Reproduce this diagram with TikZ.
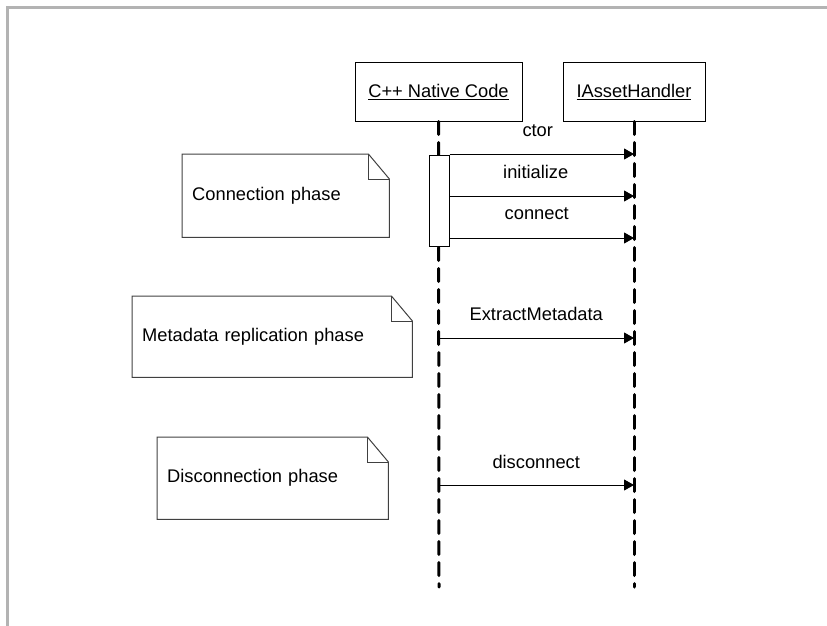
\documentclass[tikz,border=0pt]{standalone}
\usepackage{fontspec}
\setmainfont{Liberation Sans}
\usepackage{xcolor}
\usepackage{tikz}
\usetikzlibrary{positioning, arrows.meta}
\definecolor{FrameGray}{HTML}{B3B3B3}
\definecolor{NoteLine}{HTML}{404040}
\tikzset{
  headbox/.style={draw=black, line width=1pt, fill=white, minimum height=58pt, inner sep=0pt},
  actbox/.style={draw=black, line width=1pt, fill=white, minimum width=20pt, minimum height=91pt, inner sep=0pt},
  notebox/.style={align=left, inner xsep=10pt, inner ysep=0pt, minimum height=#1, anchor=north west},
  notedraw/.style={draw=NoteLine, line width=1pt, line join=miter},
  lifeline/.style={line width=3pt, line cap=round, dash pattern=on 13pt off 8pt},
  msg/.style={line width=1pt, -{Triangle[length=10pt, width=11pt]}},
  msglabel/.style={midway, yshift=24pt}
}
\newcommand{\foldnote}[1]{%
  \draw[notedraw] (#1.south west) -- (#1.north west) -- ([xshift=-21pt]#1.north east)
    -- ([yshift=-25pt]#1.north east) -- (#1.south east) -- cycle;
  \draw[notedraw] ([xshift=-21pt]#1.north east) |- ([yshift=-25pt]#1.north east);
}

\begin{document}
\begin{tikzpicture}[x=1pt, y=-1pt, font=\fontsize{18.3}{22}\selectfont]
      \useasboundingbox (0,0) rectangle (827,626);
      \draw[FrameGray, line width=3pt] (7.5,626) -- (7.5,7.5) -- (827,7.5);
      % Lifeline heads
      \node[headbox, minimum width=167pt] (native) at (438.5,92) {\underline{C++ Native Code}};
      \node[headbox, minimum width=142pt] (asset) at (634,92) {\underline{IAssetHandler}};
      \coordinate (nativeend) at (439,587);
      \coordinate (assetend) at (634,587);
      % Lifelines
      \draw[lifeline] (native.south) -- (nativeend);
      \draw[lifeline] (asset.south) -- (assetend);
      \node[actbox] (act) at (439,200.5) {};
      % Notes
      \node[notebox=83pt, text width=187pt] (connnote) at (182,154) {Connection phase};
      \foldnote{connnote}
      \node[notebox=81pt, text width=260pt] (metanote) at (132,296) {Metadata replication phase};
      \foldnote{metanote}
      \node[notebox=82pt, text width=211pt] (discnote) at (157,437) {Disconnection phase};
      \foldnote{discnote}
      % Messages
      \draw[msg] (act.east |- 0,154) -- (asset.south |- 0,154) node[msglabel, xshift=-4pt, yshift=-1pt] {ctor};
      \draw[msg] (act.east |- 0,196) -- (asset.south |- 0,196) node[msglabel, xshift=-6pt] {initialize};
      \draw[msg] (act.east |- 0,238) -- (asset.south |- 0,238) node[msglabel, xshift=-5pt] {connect};
      \draw[msg] (native.south |- 0,338) -- (asset.south |- 0,338) node[msglabel] {ExtractMetadata};
      \draw[msg] (native.south |- 0,485) -- (asset.south |- 0,485) node[msglabel, yshift=-1pt] {disconnect};
\end{tikzpicture}
\end{document}
